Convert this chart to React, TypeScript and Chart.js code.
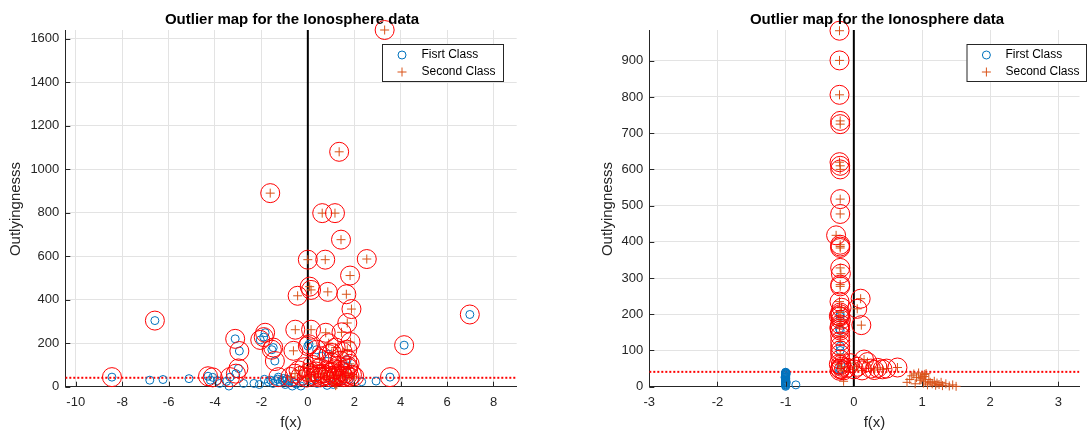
import React, { useEffect, useRef } from "react";
import { Chart, registerables } from "chart.js";

Chart.register(...registerables);

type P = [number, number];

// ---------- axes / ticks ----------
const leftXTicks = [-10, -8, -6, -4, -2, 0, 2, 4, 6, 8];
const leftYTicks = [0, 200, 400, 600, 800, 1000, 1200, 1400, 1600];
const rightXTicks = [-3, -2, -1, 0, 1, 2, 3];
const rightYTicks = [0, 100, 200, 300, 400, 500, 600, 700, 800, 900];
const leftXRange: P = [-10.45, 9];
const leftYRange: P = [0, 1640];
const rightXRange: P = [-3, 3.31];
const rightYRange: P = [0, 985];
const leftCutoff = 41;
const rightCutoff = 41;

const chartTitle = "Outlier map for the Ionosphere data";
const xAxisLabel = "f(x)";
const yAxisLabel = "Outlyingnesss";
const leftLegend = ["Fisrt Class", "Second Class"];
const rightLegend = ["First Class", "Second Class"];

// ---------- left chart data ----------
const leftFirst: P[] = [
  [-8.44, 44], [-6.59, 304], [-6.81, 30], [-6.24, 33], [-5.12, 37],
  [-4.3, 48], [-4.1, 43], [-4.2, 30], [-3.8, 15], [-3.9, 28], [-3.4, 3],
  [-3.35, 44], [-3.5, 25], [-3.13, 220], [-2.95, 164], [-2.99, 84],
  [-3.1, 60], [-2.77, 15], [-2.32, 15], [-2.09, 10], [-2.05, 215],
  [-1.84, 248], [-1.9, 228], [-1.49, 180], [-1.55, 170], [-1.42, 118],
  [-1.87, 34], [-1.7, 22], [-1.6, 30], [-1.5, 15], [-1.4, 28], [-1.3, 35],
  [-1.27, 44], [-1.2, 20], [-1.1, 30], [-1.05, 38], [-1.0, 25],
  [-0.97, 10], [-0.9, 35], [-0.85, 18], [-0.8, 28], [-0.67, 3],
  [-0.6, 20], [-0.5, 12], [-0.3, 3], [-0.2, 25], [0.0, 187], [0.05, 195],
  [0.38, 170], [0.2, 30], [0.4, 15], [0.83, 6], [1.1, 10], [1.2, 20],
  [1.72, 95], [1.5, 30], [1.8, 35], [2.32, 23], [2.94, 26], [3.54, 44],
  [4.15, 191], [6.98, 332], [0.6, 140], [0.9, 150], [1.7, 125],
];

const leftSecond: P[] = [
  [3.31, 1640], [1.35, 1080], [-1.62, 890], [0.62, 798], [1.17, 798],
  [1.43, 676], [0.0, 584], [0.75, 584], [2.54, 587], [1.82, 511],
  [0.08, 460], [0.14, 445], [-0.44, 418], [0.86, 436], [1.66, 425],
  [1.88, 357], [1.7, 293], [-0.54, 262], [0.14, 262], [0.77, 248],
  [1.45, 250], [-0.62, 165], [1.7, 170], [1.03, 155], [1.84, 205],
  [0.9, 200], [1.2, 180], [1.5, 160], [0.5, 130], [1.4, 120],
  [-0.75, 45], [-0.55, 60], [-0.4, 75], [-0.3, 50], [-0.15, 90],
  [-0.05, 42], [0.05, 65], [0.15, 50], [0.2, 100], [0.3, 45], [0.35, 70],
  [0.45, 55], [0.5, 85], [0.55, 43], [0.65, 60], [0.7, 48], [0.8, 75],
  [0.85, 52], [0.95, 44], [1.0, 65], [1.05, 110], [1.1, 50], [1.15, 80],
  [1.2, 45], [1.25, 58], [1.3, 95], [1.35, 48], [1.45, 70], [1.5, 52],
  [1.55, 44], [1.6, 62], [1.7, 50], [1.75, 85], [1.8, 45], [1.9, 55],
  [2.0, 48], [1.8, 105],
  [1.2, 5], [1.15, 15], [0.3, 25], [0.6, 20], [0.9, 30], [1.4, 22],
  [0.0, 30], [1.25, 10],
];

// ---------- right chart data ----------
const rightFirst: P[] = [
  [-1.0, 1], [-1.0, 3], [-1.0, 5], [-1.0, 6], [-1.0, 8], [-1.0, 10],
  [-1.0, 11], [-1.0, 13], [-1.0, 15], [-1.0, 16], [-1.0, 18], [-1.0, 20],
  [-1.0, 22], [-1.0, 23], [-1.0, 25], [-1.0, 27], [-1.0, 28], [-1.0, 30],
  [-1.0, 32], [-1.0, 34], [-1.0, 35], [-1.0, 37], [-1.0, 38], [-1.0, 39],
  [-1.0, 40], [-0.99, 12], [-1.01, 26], [-0.99, 36],
  [-0.85, 5],
  [-0.2, 200], [-0.2, 194], [-0.21, 160], [-0.2, 155], [-0.2, 112],
  [-0.2, 100], [-0.19, 60], [-0.2, 48], [-0.21, 44],
];

const rightSecond: P[] = [
  [-0.21, 983], [-0.21, 901], [-0.21, 806], [-0.2, 734], [-0.2, 725],
  [-0.21, 620], [-0.2, 610], [-0.2, 600], [-0.2, 518], [-0.2, 477],
  [-0.26, 418], [-0.2, 392], [-0.2, 387], [-0.2, 383], [-0.2, 328],
  [-0.19, 312], [-0.2, 282], [-0.2, 277], [0.1, 243], [0.05, 215],
  [0.11, 170], [-0.21, 235], [-0.18, 218], [-0.2, 205], [-0.22, 195],
  [-0.19, 185], [-0.2, 172], [-0.21, 165], [-0.2, 140], [-0.2, 125],
  [-0.2, 90], [-0.2, 75], [-0.22, 62], [-0.18, 55], [-0.2, 50],
  [-0.15, 45], [-0.1, 52], [-0.05, 65], [0.0, 48], [0.05, 55], [0.12, 45],
  [0.2, 68], [0.25, 50], [0.3, 46], [0.35, 52], [0.42, 48], [0.48, 50],
  [0.64, 53], [0.15, 75], [-0.15, 15],
  [0.78, 12], [0.82, 20], [0.85, 30], [0.88, 35], [0.9, 8], [0.92, 25],
  [0.95, 38], [0.97, 18], [1.0, 32], [1.0, 22], [1.02, 10], [1.03, 28],
  [1.05, 15], [1.06, 36], [1.08, 5], [1.1, 20], [1.12, 12], [1.15, 8],
  [1.18, 15], [1.2, 4], [1.22, 10], [1.25, 6], [1.28, 12], [1.3, 3],
  [1.35, 8], [1.4, 2], [1.45, 5], [1.5, 1], [0.98, 26], [1.04, 34],
];

// ---------- styling ----------
const BLUE = "#0072BD";
const ORANGE = "#D95319";
const RED = "#FF0000";
const AXIS = "#262626";
const GRID = "#e3e3e3";
const FONT = '"Liberation Sans", Arial, Helvetica, sans-serif';

type Decor = {
  titleX: number;
  titleY: number;
  xLabelX: number;
  xLabelY: number;
  yLabelX: number;
  yLabelY: number;
  legend: string[];
  legendBox: [number, number, number, number];
  legendMarkerX: number;
  legendTextX: number;
  legendRows: [number, number];
};

const decorPlugin = {
  id: "decor",
  afterDraw(chart: any, _args: any, opts: Decor) {
    const ctx: CanvasRenderingContext2D = chart.ctx;
    const { left, bottom } = chart.chartArea;
    const xs = chart.scales.x;
    const ys = chart.scales.y;
    ctx.save();
    // inward tick marks
    ctx.strokeStyle = AXIS;
    ctx.lineWidth = 1;
    ctx.beginPath();
    for (const t of xs.ticks) {
      const px = Math.round(xs.getPixelForValue(t.value)) + 0.5;
      ctx.moveTo(px, bottom);
      ctx.lineTo(px, bottom - 5);
    }
    for (const t of ys.ticks) {
      const py = Math.round(ys.getPixelForValue(t.value)) + 0.5;
      ctx.moveTo(left, py);
      ctx.lineTo(left + 5, py);
    }
    ctx.stroke();

    // title
    ctx.fillStyle = "#000";
    ctx.font = `bold 15px ${FONT}`;
    ctx.textAlign = "center";
    ctx.textBaseline = "middle";
    ctx.fillText(chartTitle, opts.titleX, opts.titleY);

    // axis labels
    ctx.fillStyle = AXIS;
    ctx.font = `15px ${FONT}`;
    ctx.fillText(xAxisLabel, opts.xLabelX, opts.xLabelY);
    ctx.save();
    ctx.translate(opts.yLabelX, opts.yLabelY);
    ctx.rotate(-Math.PI / 2);
    ctx.fillText(yAxisLabel, 0, 0);
    ctx.restore();

    // legend
    const [bx, by, bw, bh] = opts.legendBox;
    ctx.fillStyle = "#fff";
    ctx.fillRect(bx, by, bw, bh);
    ctx.strokeStyle = AXIS;
    ctx.lineWidth = 1;
    ctx.strokeRect(bx + 0.5, by + 0.5, bw, bh);
    const mx = opts.legendMarkerX;
    const [r1, r2] = opts.legendRows;
    ctx.strokeStyle = BLUE;
    ctx.beginPath();
    ctx.arc(mx, r1, 4, 0, Math.PI * 2);
    ctx.stroke();
    ctx.strokeStyle = ORANGE;
    ctx.beginPath();
    ctx.moveTo(mx - 4.5, r2);
    ctx.lineTo(mx + 4.5, r2);
    ctx.moveTo(mx, r2 - 4.5);
    ctx.lineTo(mx, r2 + 4.5);
    ctx.stroke();
    ctx.fillStyle = "#000";
    ctx.font = `12px ${FONT}`;
    ctx.textAlign = "left";
    ctx.fillText(opts.legend[0], opts.legendTextX, r1);
    ctx.fillText(opts.legend[1], opts.legendTextX, r2);
    ctx.restore();
  },
};

function toXY(arr: P[]) {
  return arr.map(([x, y]) => ({ x, y }));
}

function buildConfig(
  first: P[],
  second: P[],
  xRange: P,
  yRange: P,
  xTicks: number[],
  yTicks: number[],
  cutoff: number,
  layout: { yWidth: number; padRight: number },
  decor: Decor
): any {
  const outliers = [...first, ...second].filter(([, y]) => y > cutoff);
  return {
    type: "scatter",
    data: {
      datasets: [
        {
          data: toXY(outliers),
          pointStyle: "circle",
          radius: 9.5,
          borderColor: RED,
          backgroundColor: "rgba(0,0,0,0)",
          borderWidth: 1,
          clip: false,
          order: 0,
        },
        {
          data: toXY(second),
          pointStyle: "cross",
          radius: 4.5,
          borderColor: ORANGE,
          backgroundColor: ORANGE,
          borderWidth: 1,
          clip: false,
          order: 1,
        },
        {
          data: toXY(first),
          pointStyle: "circle",
          radius: 4,
          borderColor: BLUE,
          backgroundColor: "rgba(0,0,0,0)",
          borderWidth: 1,
          clip: false,
          order: 2,
        },
        {
          data: [
            { x: 0, y: yRange[0] },
            { x: 0, y: yRange[1] },
          ],
          showLine: true,
          pointRadius: 0,
          borderColor: "#000",
          borderWidth: 2,
          order: 3,
        },
        {
          data: [
            { x: xRange[0], y: cutoff },
            { x: xRange[1], y: cutoff },
          ],
          showLine: true,
          pointRadius: 0,
          borderColor: RED,
          borderWidth: 2,
          borderDash: [2, 2],
          order: 4,
        },
      ],
    },
    options: {
      responsive: false,
      animation: false,
      events: [],
      devicePixelRatio: 1,
      layout: { padding: { left: 0, right: layout.padRight, top: 30, bottom: 0 } },
      plugins: {
        legend: { display: false },
        title: { display: false },
        tooltip: { enabled: false },
        decor,
      },
      scales: {
        x: {
          type: "linear",
          min: xRange[0],
          max: xRange[1],
          afterBuildTicks: (s: any) => {
            s.ticks = xTicks.map((v) => ({ value: v }));
          },
          afterFit: (s: any) => {
            s.height = 431 - 386.7;
            s.paddingLeft = 0;
            s.paddingRight = 0;
          },
          grid: { color: GRID, lineWidth: 1, drawTicks: false },
          border: { display: true, color: AXIS, width: 1 },
          ticks: {
            padding: 8,
            color: AXIS,
            font: { family: FONT, size: 13 },
            maxRotation: 0,
            autoSkip: false,
            callback: (v: number) => String(v),
          },
        },
        y: {
          type: "linear",
          min: yRange[0],
          max: yRange[1],
          afterBuildTicks: (s: any) => {
            s.ticks = yTicks.map((v) => ({ value: v }));
          },
          afterFit: (s: any) => {
            s.width = layout.yWidth;
            s.paddingTop = 0;
            s.paddingBottom = 0;
          },
          grid: { color: GRID, lineWidth: 1, drawTicks: false },
          border: { display: true, color: AXIS, width: 1 },
          ticks: {
            padding: 6,
            color: AXIS,
            font: { family: FONT, size: 13 },
            autoSkip: false,
            callback: (v: number) => String(v),
          },
        },
      },
    },
    plugins: [decorPlugin],
  };
}

export default function App() {
  const leftRef = useRef<HTMLCanvasElement>(null);
  const rightRef = useRef<HTMLCanvasElement>(null);

  useEffect(() => {
    document.body.style.margin = "0";
    document.body.style.background = "#fff";
    const leftChart = new Chart(
      leftRef.current as HTMLCanvasElement,
      buildConfig(
        leftFirst,
        leftSecond,
        leftXRange,
        leftYRange,
        leftXTicks,
        leftYTicks,
        leftCutoff,
        { yWidth: 65.3, padRight: 28.3 },
        {
          titleX: 292,
          titleY: 19.5,
          xLabelX: 291,
          xLabelY: 422.5,
          yLabelX: 16,
          yLabelY: 209,
          legend: leftLegend,
          legendBox: [382, 44, 121, 37],
          legendMarkerX: 402,
          legendTextX: 421.5,
          legendRows: [55, 72],
        }
      )
    );
    const rightChart = new Chart(
      rightRef.current as HTMLCanvasElement,
      buildConfig(
        rightFirst,
        rightSecond,
        rightXRange,
        rightYRange,
        rightXTicks,
        rightYTicks,
        rightCutoff,
        { yWidth: 104.3, padRight: 0 },
        {
          titleX: 332,
          titleY: 19.5,
          xLabelX: 329.5,
          xLabelY: 422.5,
          yLabelX: 62.6,
          yLabelY: 209,
          legend: rightLegend,
          legendBox: [421.5, 44, 119.5, 37],
          legendMarkerX: 441.4,
          legendTextX: 460.5,
          legendRows: [55, 72],
        }
      )
    );
    return () => {
      leftChart.destroy();
      rightChart.destroy();
    };
  }, []);

  return (
    <div style={{ position: "absolute", left: 0, top: 0, width: 1090, height: 431, background: "#fff", overflow: "hidden" }}>
      <canvas ref={leftRef} width={545} height={431} style={{ position: "absolute", left: 0, top: 0 }} />
      <canvas ref={rightRef} width={545} height={431} style={{ position: "absolute", left: 545, top: 0 }} />
    </div>
  );
}
